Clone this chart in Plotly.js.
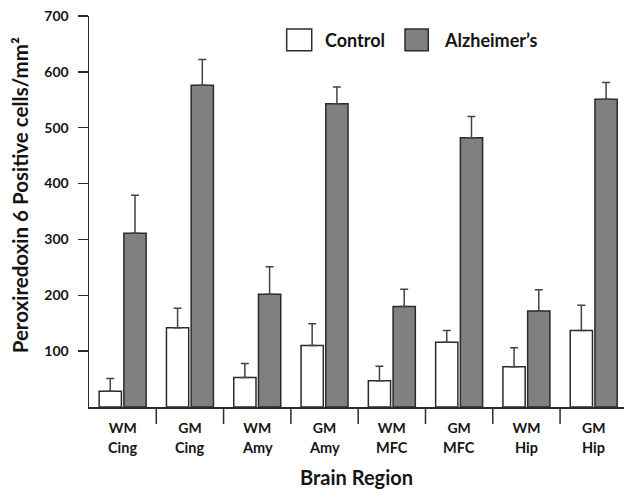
<!DOCTYPE html>
<html>
<head>
<meta charset="utf-8">
<script src="https://cdn.plot.ly/plotly-3.0.1.min.js"></script>
<style>html,body{margin:0;padding:0;background:#fff;}#chart{width:624px;height:489px;}</style>
</head>
<body>
<div id="chart"></div>
<script>
// ---- data ----
const categories = ["WM Cing","GM Cing","WM Amy","GM Amy","WM MFC","GM MFC","WM Hip","GM Hip"];
const tissueLabels = ["WM","GM","WM","GM","WM","GM","WM","GM"];
const regionLabels = ["Cing","Cing","Amy","Amy","MFC","MFC","Hip","Hip"];
const controlValues = [28, 142, 53, 110, 47, 116, 72, 137];
const controlErrors = [23, 35, 25, 39, 26, 21, 34, 45];
const alzValues = [311, 576, 202, 543, 180, 482, 172, 551];
const alzErrors = [68, 46, 49, 30, 31, 38, 38, 30];
const yTicks = [100, 200, 300, 400, 500, 600, 700];

const FONT = "Lato, 'Open Sans', sans-serif";
const DARK = "#2b2b2b";
const TXT = "#151515";
const PLOT_H = 391;
const px = v => v / PLOT_H; // pixel offset -> paper fraction (vertical)

const errStyle = {type: "data", symmetric: false, color: "#444", thickness: 1.5, width: 4};

const traces = [
  {
    type: "bar", name: "Control", x: categories, y: controlValues,
    marker: {color: "#ffffff", line: {color: DARK, width: 1.5}},
    error_y: Object.assign({array: controlErrors, arrayminus: controlErrors.map(() => 0)}, errStyle),
    showlegend: false
  },
  {
    type: "bar", name: "Alzheimer's", x: categories, y: alzValues,
    marker: {color: "#808080", line: {color: DARK, width: 1.5}},
    error_y: Object.assign({array: alzErrors, arrayminus: alzErrors.map(() => 0)}, errStyle),
    showlegend: false
  }
];

// legend drawn in paper coordinates
const legendItems = [
  {label: "Control", color: "#ffffff", x0: 0.3695, x1: 0.4163, tx: 0.438},
  {label: "Alzheimer\u2019s", color: "#808080", x0: 0.5907, x1: 0.6342, tx: 0.6593}
];
const shapes = legendItems.map(it => ({
  type: "rect", xref: "paper", yref: "paper", x0: it.x0, x1: it.x1, y0: 0.911, y1: 0.9667,
  fillcolor: it.color, line: {color: DARK, width: 1.5}
}));
// separator ticks at category boundaries (below the x axis)
categories.slice(1).forEach((c, i) => {
  shapes.push({type: "line", xref: "x", yref: "paper", x0: i + 0.5, x1: i + 0.5,
    y0: 0, y1: -px(17), line: {color: DARK, width: 1.5}});
});

const annotations = legendItems.map(it => ({
  xref: "paper", yref: "paper", x: it.tx, y: 0.9386, xanchor: "left", yanchor: "middle",
  text: it.label, showarrow: false, font: {family: FONT, size: 18, color: TXT, weight: 700}
}));
// second line of category labels
regionLabels.forEach((r, i) => {
  annotations.push({xref: "x", yref: "paper", x: categories[i], y: -px(41), yanchor: "middle",
    text: r, showarrow: false, font: {family: FONT, size: 14.5, color: TXT, weight: 700}});
});
// y axis title
annotations.push({xref: "paper", yref: "paper", x: -(89 - 20) / 535, xanchor: "center",
  y: px(406.7 - 195), yanchor: "middle", textangle: -90, showarrow: false,
  text: "Peroxiredoxin 6 Positive cells/mm\u00b2", font: {family: FONT, size: 20.5, color: TXT, weight: 700}});

const layout = {
  width: 624, height: 489,
  margin: {l: 89, r: 0, t: 16, b: 82, pad: 0},
  paper_bgcolor: "#fff", plot_bgcolor: "#fff",
  barmode: "group", bargap: 0.265, bargroupgap: 0.1,
  font: {family: FONT, color: TXT},
  xaxis: {
    type: "category", range: [-0.5, 7.45], automargin: false,
    tickmode: "array", tickvals: categories, ticktext: tissueLabels,
    ticks: "", showline: true, linecolor: DARK, linewidth: 1.5,
    showgrid: false, zeroline: false, ticklabelstandoff: 8,
    tickfont: {family: FONT, size: 14, color: TXT, weight: 700},
    title: {text: "Brain Region", standoff: 36, font: {family: FONT, size: 20, color: TXT, weight: 700}}
  },
  yaxis: {
    range: [0, 700], automargin: false,
    tickmode: "array", tickvals: yTicks,
    ticks: "outside", ticklen: 10, tickwidth: 1.5, tickcolor: DARK,
    showline: true, linecolor: DARK, linewidth: 1.5,
    showgrid: false, zeroline: false, ticklabelstandoff: 6,
    tickfont: {family: FONT, size: 14, color: TXT, weight: 700}
  },
  shapes: shapes,
  annotations: annotations,
  showlegend: false
};

Plotly.newPlot("chart", traces, layout, {displayModeBar: false, staticPlot: true});
</script>
</body>
</html>
